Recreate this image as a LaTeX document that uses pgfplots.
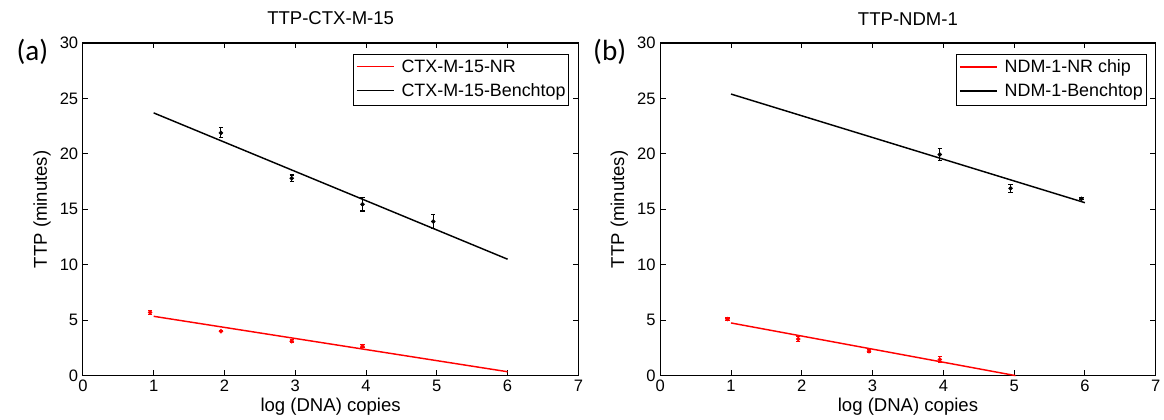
\documentclass[border=0pt]{standalone}
\usepackage{pgfplots}
\pgfplotsset{compat=1.18}
\usepackage{fontspec}
\setmainfont{Liberation Sans}
\newfontfamily\panelfont{Carlito}
\newcommand\legline[1]{\textcolor{#1}{\rule[0.55ex]{0.98cm}{1.1pt}}\hspace{6pt}}
\begin{document}
\tikzset{leg/.style={draw=black,line width=0.9pt,anchor=north east,align=left,inner xsep=2.5pt,inner ysep=4pt,
font=\fontsize{13.5}{18}\selectfont}}
\pgfplotsset{ttp/.style={scale only axis,width=374pt,height=251pt,
xmin=0,xmax=7,ymin=0,ymax=30,xtick={0,...,7},ytick={0,5,...,30},
tick align=inside,major tick length=4pt,axis line style={line width=0.9pt},tick style={line width=0.7pt,black},
tick label style={font=\fontsize{12.5}{14}\selectfont},label style={font=\fontsize{14}{16}\selectfont},
title style={font=\fontsize{14}{16}\selectfont,yshift=4pt},
xlabel={log (DNA) copies},ylabel={TTP (minutes)},
xlabel style={yshift=2pt},
clip=false,
/pgf/number format/assume math mode=true},
pts/.style={only marks,mark=*,mark size=1.5pt,error bars/.cd,y dir=both,y explicit,
error bar style={line width=0.8pt},error mark options={rotate=90,mark size=1.6pt,line width=0.8pt},/pgfplots/.cd}}
\begin{tikzpicture}
\useasboundingbox (0,0) rectangle (873pt,316.5pt);
\begin{axis}[ttp,at={(57pt,33pt)},anchor=south west,title={TTP-CTX-M-15}]
\addplot[red,line width=1.1pt] coordinates {(1,5.35) (6,0.35)};
\addplot[black,line width=1.1pt] coordinates {(1,23.7) (6,10.5)};
\addplot[red,pts] coordinates {(0.95,5.7) +- (0,0.15) (1.95,4.0) +- (0,0.05) (2.95,3.1) +- (0,0.15) (3.95,2.65) +- (0,0.15)};
\addplot[black,pts] coordinates {(1.95,21.9) +- (0,0.45) (2.95,17.8) +- (0,0.3) (3.95,15.45) +- (0,0.6) (4.95,13.9) +- (0,0.6)};
\node[leg] at (rel axis cs:0.982,0.967) {\legline{red}CTX-M-15-NR\\\legline{black}CTX-M-15-Benchtop};
\node[font=\panelfont\fontsize{22}{24}\selectfont] at (rel axis cs:-0.102,0.975) {(a)};
\end{axis}
\begin{axis}[ttp,at={(492.75pt,33pt)},anchor=south west,title={TTP-NDM-1}]
\addplot[red,line width=1.1pt] coordinates {(1,4.75) (5.02,0)};
\addplot[black,line width=1.1pt] coordinates {(1,25.4) (6,15.6)};
\addplot[red,pts] coordinates {(0.95,5.1) +- (0,0.1) (1.95,3.3) +- (0,0.2) (2.95,2.2) +- (0,0.15) (3.95,1.45) +- (0,0.25)};
\addplot[black,pts] coordinates {(3.95,19.95) +- (0,0.55) (4.95,16.9) +- (0,0.35) (5.95,15.95) +- (0,0.1)};
\node[leg] at (rel axis cs:0.982,0.967) {\legline{red}NDM-1-NR chip\\\legline{black}NDM-1-Benchtop};
\node[font=\panelfont\fontsize{22}{24}\selectfont] at (rel axis cs:-0.102,0.975) {(b)};
\end{axis}
\end{tikzpicture}
\end{document}
